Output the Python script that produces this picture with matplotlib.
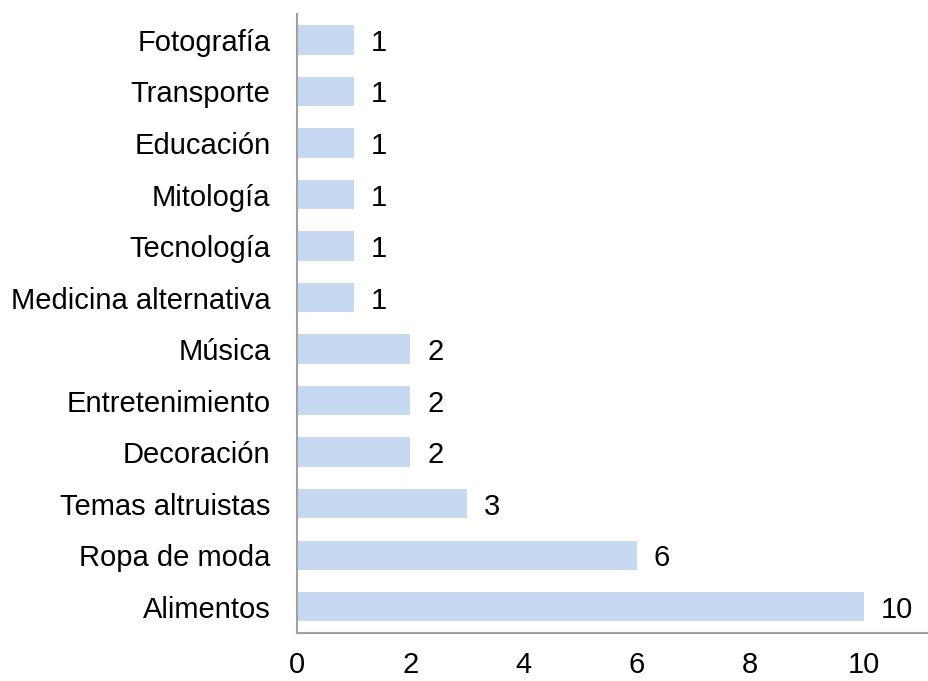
import matplotlib

matplotlib.use("Agg")
import matplotlib.pyplot as plt

categories = [
    "Alimentos", "Ropa de moda", "Temas altruistas", "Decoración",
    "Entretenimiento", "Música", "Medicina alternativa", "Tecnología",
    "Mitología", "Educación", "Transporte", "Fotografía",
]
values = [10, 6, 3, 2, 2, 2, 1, 1, 1, 1, 1, 1]
xticks = [0, 2, 4, 6, 8, 10]

plt.rcParams["font.family"] = ["Liberation Sans", "DejaVu Sans"]

fig = plt.figure(figsize=(9.29, 6.81), dpi=100)
ax = fig.add_axes([0.3197, 0.0712, 0.68, 0.908])

y = range(len(categories))
ax.barh(y, values, height=0.57, color="#C6D9F1")
for yi, v in zip(y, values):
    ax.text(v + 0.3, yi, str(v), va="center_baseline", ha="left", fontsize=21)

ax.set_yticks(list(y))
ax.set_yticklabels(categories, fontsize=21)
ax.set_xticks(xticks)
ax.set_xticklabels([str(t) for t in xticks], fontsize=21)
ax.set_xlim(0, 11.15)
ax.set_ylim(-0.5, len(categories) - 0.5)
ax.tick_params(axis="both", length=0)
ax.tick_params(axis="y", pad=19)
ax.tick_params(axis="x", pad=13)
for side in ("top", "right"):
    ax.spines[side].set_visible(False)
for side in ("left", "bottom"):
    ax.spines[side].set_color("#A0A0A0")
    ax.spines[side].set_linewidth(1.5)

fig.savefig("out.png", dpi=100)
plt.close(fig)
